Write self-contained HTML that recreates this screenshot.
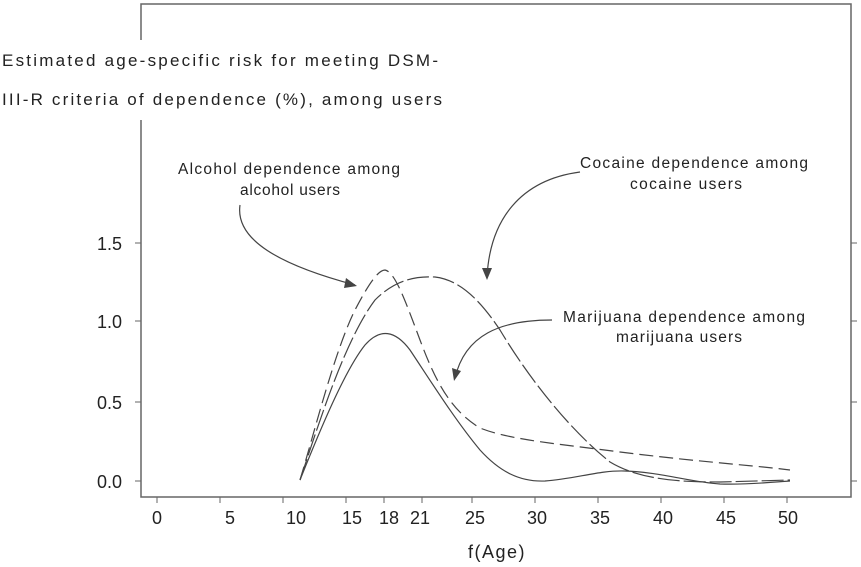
<!DOCTYPE html>
<html><head><style>
body{margin:0;background:#fff;}
svg{display:block;font-family:"Liberation Sans",Arial,sans-serif;}
</style></head><body>
<svg width="861" height="567" viewBox="0 0 861 567" xmlns="http://www.w3.org/2000/svg">
<rect x="141" y="4" width="710" height="493" fill="none" stroke="#666" stroke-width="1.5"/>
<rect x="0" y="40" width="445" height="80" fill="#fff"/>
<g font-size="17" fill="#222">
<text x="2" y="66" textLength="436" lengthAdjust="spacing">Estimated age-specific risk for meeting DSM-</text>
<text x="2" y="105" textLength="440" lengthAdjust="spacing">III-R criteria of dependence (%), among users</text>
</g>
<g font-size="18" fill="#222" text-anchor="end">
<text x="122" y="250">1.5</text><text x="122" y="328">1.0</text>
<text x="122" y="409">0.5</text><text x="122" y="488">0.0</text>
</g>
<g stroke="#666" stroke-width="1">
<line x1="135" y1="243" x2="141" y2="243"/><line x1="135" y1="321" x2="141" y2="321"/>
<line x1="135" y1="402" x2="141" y2="402"/><line x1="135" y1="481" x2="141" y2="481"/>
<line x1="851" y1="243" x2="857" y2="243"/><line x1="851" y1="321" x2="857" y2="321"/>
<line x1="851" y1="402" x2="857" y2="402"/><line x1="851" y1="481" x2="857" y2="481"/>
<line x1="157" y1="497" x2="157" y2="503"/><line x1="220" y1="497" x2="220" y2="503"/>
<line x1="283" y1="497" x2="283" y2="503"/><line x1="346" y1="497" x2="346" y2="503"/>
<line x1="384" y1="497" x2="384" y2="503"/><line x1="422" y1="497" x2="422" y2="503"/>
<line x1="472" y1="497" x2="472" y2="503"/><line x1="535" y1="497" x2="535" y2="503"/>
<line x1="598" y1="497" x2="598" y2="503"/><line x1="661" y1="497" x2="661" y2="503"/>
<line x1="724" y1="497" x2="724" y2="503"/><line x1="787" y1="497" x2="787" y2="503"/>
</g>
<g font-size="18" fill="#222" text-anchor="middle">
<text x="157" y="524">0</text><text x="230" y="524">5</text><text x="296" y="524">10</text>
<text x="352" y="524">15</text><text x="389" y="524">18</text><text x="420" y="524">21</text>
<text x="475" y="524">25</text><text x="537" y="524">30</text><text x="600" y="524">35</text>
<text x="663" y="524">40</text><text x="726" y="524">45</text><text x="788" y="524">50</text>
<text x="497" y="558" letter-spacing="1.5">f(Age)</text>
</g>
<g fill="none" stroke="#444" stroke-width="1.2">
<path stroke-dasharray="14,6" d="M300,480 C315,430 335,350 355,310 C368,285 378,270 385,270 C395,272 405,300 420,340 C435,380 450,410 480,428 C510,440 560,444 620,452 C700,462 760,466 790,470"/>
<path stroke-dasharray="22,4" d="M300,480 C320,420 345,340 375,300 C395,280 415,276 435,277 C460,280 480,300 500,330 C530,380 570,430 610,462 C640,480 680,482 720,482 L790,480"/>
<path d="M300,480 C320,430 345,370 365,345 C380,328 395,330 410,350 C430,380 455,420 480,450 C500,472 520,482 545,481 C575,479 600,470 625,471 C660,472 690,482 720,484 C750,485 770,482 790,481"/>
<path d="M240,205 C235,240 280,265 355,285"/>
<path d="M580,172 C520,180 490,220 487,277"/>
<path d="M552,320 C500,320 465,335 455,378"/>
</g>
<g fill="#444">
<polygon points="357,286 346,278 344,288"/>
<polygon points="487,280 482,268 492,268"/>
<polygon points="454,381 452,368 461,371"/>
</g>
<g font-size="15.5" fill="#222">
<text x="178" y="174" textLength="222" lengthAdjust="spacing">Alcohol dependence among</text>
<text x="240" y="195" textLength="100" lengthAdjust="spacing">alcohol users</text>
<text x="580" y="168" textLength="228" lengthAdjust="spacing">Cocaine dependence among</text>
<text x="630" y="189" textLength="112" lengthAdjust="spacing">cocaine users</text>
<text x="563" y="322" textLength="242" lengthAdjust="spacing">Marijuana dependence among</text>
<text x="616" y="342" textLength="126" lengthAdjust="spacing">marijuana users</text>
</g>
</svg>
</body></html>
